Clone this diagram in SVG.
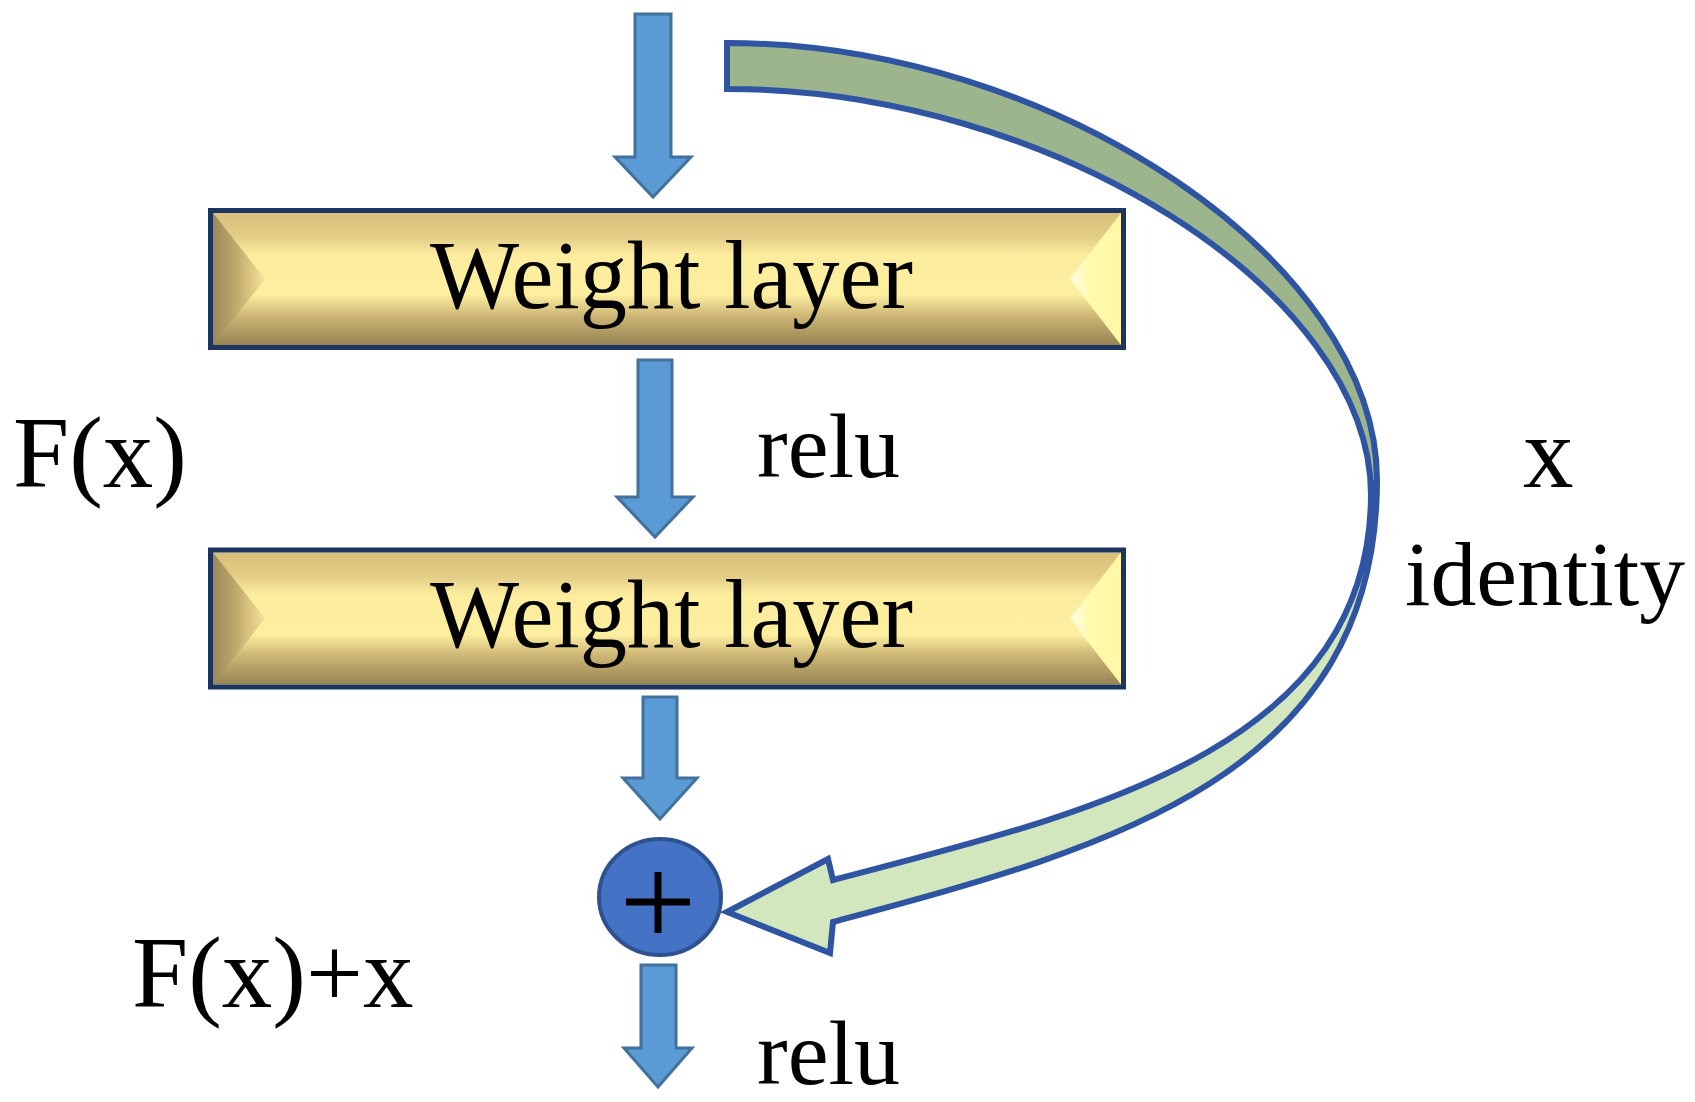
<svg xmlns="http://www.w3.org/2000/svg" width="1695" height="1102" viewBox="0 0 1695 1102">
<defs>
<style>
.lbl{font-family:"Liberation Serif","Times New Roman",serif;fill:#000}
.blue{fill:#5b9bd5;stroke:#41719c;stroke-width:3;stroke-linejoin:miter}
.frame{fill:none;stroke:#1c3560;stroke-width:5}
.band{stroke:#2e54a2;stroke-width:6;stroke-linejoin:miter}
</style>
<linearGradient id="face" x1="0" y1="0" x2="0" y2="1">
<stop offset="0" stop-color="#d7bf7b"/>
<stop offset="0.18" stop-color="#e3cd86"/>
<stop offset="0.32" stop-color="#fcec9e"/>
<stop offset="0.62" stop-color="#fdeea0"/>
<stop offset="0.78" stop-color="#cdb676"/>
<stop offset="1" stop-color="#968352"/>
</linearGradient>
<linearGradient id="lbev" x1="0" y1="0" x2="1" y2="0">
<stop offset="0" stop-color="#9b8758"/>
<stop offset="0.5" stop-color="#c6ae70"/>
<stop offset="1" stop-color="#f6e398"/>
</linearGradient>
<linearGradient id="rbev" x1="0" y1="0" x2="1" y2="0">
<stop offset="0" stop-color="#fffde2"/>
<stop offset="0.4" stop-color="#fffaae"/>
<stop offset="1" stop-color="#fff7a4"/>
</linearGradient>
</defs>
<rect width="1695" height="1102" fill="#fff"/>

<g id="connectors">
<path id="arrow-in" class="blue" d="M635,14 H671 V157 H691 L653,197 L615,157 H635 Z"/>
<path id="arrow-relu1" class="blue" d="M638,360 H672 V497 H693 L655,537 L617,497 H638 Z"/>
<path id="arrow-fx" class="blue" d="M643,697 H677 V778 H697 L660,819 L623,778 H643 Z"/>
<path id="arrow-out" class="blue" d="M641,965 H676 V1048 H692 L658,1087 L624,1048 H641 Z"/>
<g id="identity-arrow">
<path class="band" fill="#9db58d" d="M727,43 C1053,43 1377,262 1377,480 L1371,495 C1371,291 1050,89 727,89 Z"/>
<path class="band" fill="#d2e7bd" d="M1377,480 C1377,780 1100,850 833,922 L830,953 L727,912 L828,859 L833,880 C1080,815 1370,752 1371,495 Z"/>
</g>
</g>

<g id="box1">
<polygon points="213,213 1121,213 1121,345 213,345" fill="url(#face)"/>
<polygon points="213,213 265,279 213,345" fill="url(#lbev)"/>
<polygon points="1121,213 1070,279 1121,345" fill="url(#rbev)"/>
<rect class="frame" x="210.5" y="210.5" width="913" height="137"/>
<text class="lbl" x="430" y="308" font-size="98" textLength="483" lengthAdjust="spacingAndGlyphs">Weight layer</text>
</g>

<g id="box2">
<polygon points="213,552.5 1121,552.5 1121,684.5 213,684.5" fill="url(#face)"/>
<polygon points="213,552.5 265,618.5 213,684.5" fill="url(#lbev)"/>
<polygon points="1121,552.5 1070,618.5 1121,684.5" fill="url(#rbev)"/>
<rect class="frame" x="210.5" y="550" width="913" height="137"/>
<text class="lbl" x="430" y="647" font-size="98" textLength="483" lengthAdjust="spacingAndGlyphs">Weight layer</text>
</g>

<g id="sum">
<ellipse cx="660" cy="897" rx="61" ry="58" fill="#4472c4" stroke="#2f528f" stroke-width="4"/>
<path d="M626,902 H690 M658,872 V933" stroke="#000" stroke-width="7" fill="none"/>
</g>

<g id="labels">
<text class="lbl" x="13" y="487" font-size="101">F(x)</text>
<text class="lbl" x="757" y="477" font-size="92">relu</text>
<text class="lbl" x="1523" y="487" font-size="101">x</text>
<text class="lbl" x="1405" y="605" font-size="92" textLength="280" lengthAdjust="spacingAndGlyphs">identity</text>
<text class="lbl" x="132" y="1007" font-size="101">F(x)+x</text>
<text class="lbl" x="757" y="1084" font-size="92">relu</text>
</g>
</svg>
